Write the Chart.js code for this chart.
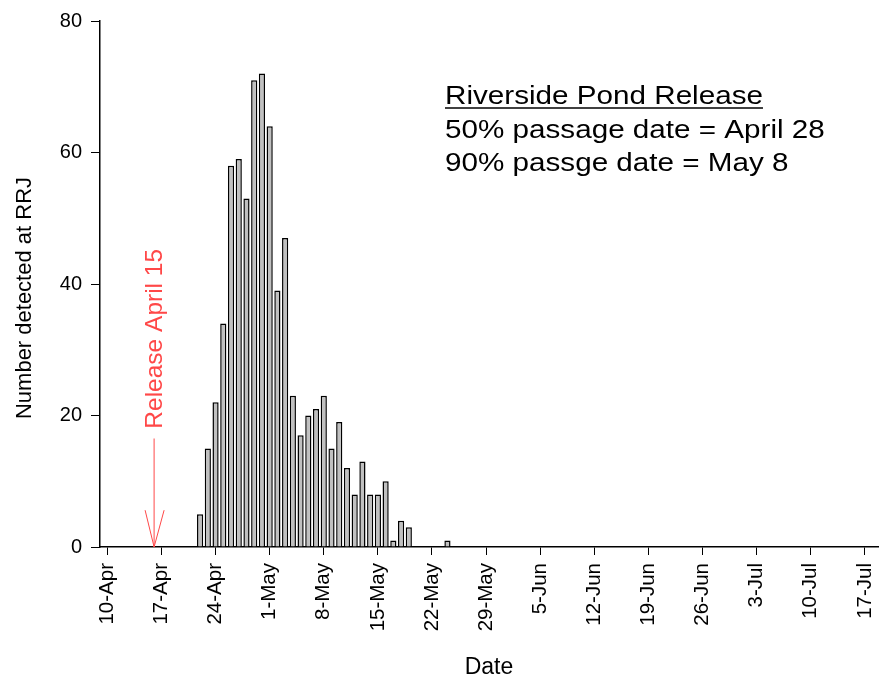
<!DOCTYPE html>
<html>
<head>
<meta charset="utf-8">
<script src="https://cdn.jsdelivr.net/npm/chart.js@4.4.0/dist/chart.umd.min.js"></script>
<style>
  html, body { margin: 0; padding: 0; background: #fff; }
  #wrap { width: 883px; height: 681px; }
</style>
</head>
<body>
<div id="wrap"><canvas id="chart"></canvas></div>
<script>
// day numbers count from 10-Apr (= 0)
const days = [12, 13, 14, 15, 16, 17, 18, 19, 20, 21, 22, 23, 24, 25, 26, 27, 28, 29, 30, 31, 32, 33, 34, 35, 36, 37, 38, 39, 44];
const counts = [5, 15, 22, 34, 58, 59, 53, 71, 72, 64, 39, 47, 23, 17, 20, 21, 23, 15, 19, 12, 8, 13, 8, 8, 10, 1, 4, 3, 1];

// x axis ticks, one a week
const tickDays = [0, 7, 14, 21, 28, 35, 42, 49, 56, 63, 70, 77, 84, 91, 98];
const tickLabels = ['10-Apr', '17-Apr', '24-Apr', '1-May', '8-May', '15-May', '22-May', '29-May',
                    '5-Jun', '12-Jun', '19-Jun', '26-Jun', '3-Jul', '10-Jul', '17-Jul'];
const yTicks = [0, 20, 40, 60, 80];

const yTitle = 'Number detected at RRJ';
const noteLines = ['Riverside Pond Release', '50% passage date = April 28', '90% passge date = May 8'];
const releaseText = 'Release April 15';
const releaseDay = 6.05;

const FONT = "'Liberation Sans', Arial, sans-serif";
const RED = '#ff4848';

// 텍스트 + 화살표 그리기
const notesPlugin = {
    id: 'notes',
    afterDraw(chart) {
        const ctx = chart.ctx;
        const x = chart.scales.x;
        const y = chart.scales.y;
        const area = chart.chartArea;

        // y title (drawn here so it can sit a little lower than centre)
        ctx.save();
        ctx.translate(31, (area.top + area.bottom) / 2 + 14);
        ctx.rotate(-Math.PI / 2);
        ctx.fillStyle = '#000';
        ctx.font = '22px ' + FONT;
        ctx.textAlign = 'center';
        ctx.textBaseline = 'alphabetic';
        ctx.fillText(yTitle, 0, 0);
        ctx.restore();

        // note block, glyphs a bit wide like the original
        ctx.save();
        const left = area.left + 345;
        ctx.translate(left, 0);
        ctx.scale(1.14, 1);
        ctx.fillStyle = '#000';
        ctx.font = '26px ' + FONT;
        ctx.textAlign = 'left';
        ctx.textBaseline = 'alphabetic';
        noteLines.forEach((t, i) => {
            ctx.fillText(t, 0, 104 + i * 33.5);
        });
        const w = ctx.measureText(noteLines[0]).width;
        ctx.strokeStyle = '#000';
        ctx.lineWidth = 1.5;
        ctx.beginPath();
        ctx.moveTo(0, 108);
        ctx.lineTo(w, 108);
        ctx.stroke();
        ctx.restore();

        // release arrow
        ctx.save();
        const ax = x.getPixelForValue(releaseDay);
        const tip = y.getPixelForValue(0);
        const top = y.getPixelForValue(16.5);
        const wing = y.getPixelForValue(5.6);
        ctx.strokeStyle = RED;
        ctx.lineWidth = 1;
        ctx.beginPath();
        ctx.moveTo(ax, top);
        ctx.lineTo(ax, tip);
        ctx.moveTo(ax - 9, wing);
        ctx.lineTo(ax, tip);
        ctx.lineTo(ax + 10, wing);
        ctx.stroke();

        ctx.translate(ax + 1, y.getPixelForValue(18));
        ctx.rotate(-Math.PI / 2);
        ctx.fillStyle = RED;
        ctx.font = '24.5px ' + FONT;
        ctx.textAlign = 'left';
        ctx.textBaseline = 'middle';
        ctx.fillText(releaseText, 0, 0);
        ctx.restore();
    }
};

new Chart(document.getElementById('chart'), {
    type: 'bar',
    data: {
        datasets: [{
            data: days.map((d, i) => ({ x: d, y: counts[i] })),
            backgroundColor: '#c0c0c0',
            borderColor: '#000',
            borderWidth: 1.5,
            barPercentage: 0.8,
            categoryPercentage: 1
        }]
    },
    options: {
        responsive: true,
        maintainAspectRatio: false,
        animation: false,
        layout: { padding: { top: 19, right: 5, left: 0, bottom: 0 } },
        plugins: {
            legend: { display: false },
            tooltip: { enabled: false }
        },
        scales: {
            x: {
                type: 'linear',
                min: -0.95,
                max: 99.7,
                offset: false,
                afterBuildTicks: (s) => { s.ticks = tickDays.map(v => ({ value: v })); },
                afterFit: (s) => { s.height = 134; s.paddingLeft = 0; s.paddingRight = 0; },
                grid: { offset: false, drawOnChartArea: false, drawTicks: true, tickLength: 8, color: '#000', lineWidth: 1 },
                border: { display: true, color: '#000', width: 1.5 },
                ticks: {
                    autoSkip: false,
                    minRotation: 90,
                    maxRotation: 90,
                    padding: 8,
                    color: '#000',
                    font: { family: FONT, size: 20.5 },
                    callback: (v) => tickLabels[tickDays.indexOf(v)]
                },
                title: {
                    display: true,
                    text: 'Date',
                    color: '#000',
                    font: { family: FONT, size: 23 },
                    padding: { top: 0, bottom: 0 }
                }
            },
            y: {
                min: 0,
                max: 80,
                afterBuildTicks: (s) => { s.ticks = yTicks.map(v => ({ value: v })); },
                afterFit: (s) => { s.width = 100; },
                grid: { drawOnChartArea: false, drawTicks: true, tickLength: 9, color: '#000', lineWidth: 1 },
                border: { display: true, color: '#000', width: 1.5 },
                ticks: {
                    padding: 9,
                    color: '#000',
                    font: { family: FONT, size: 20 }
                }
            }
        }
    },
    plugins: [notesPlugin]
});
</script>
</body>
</html>
